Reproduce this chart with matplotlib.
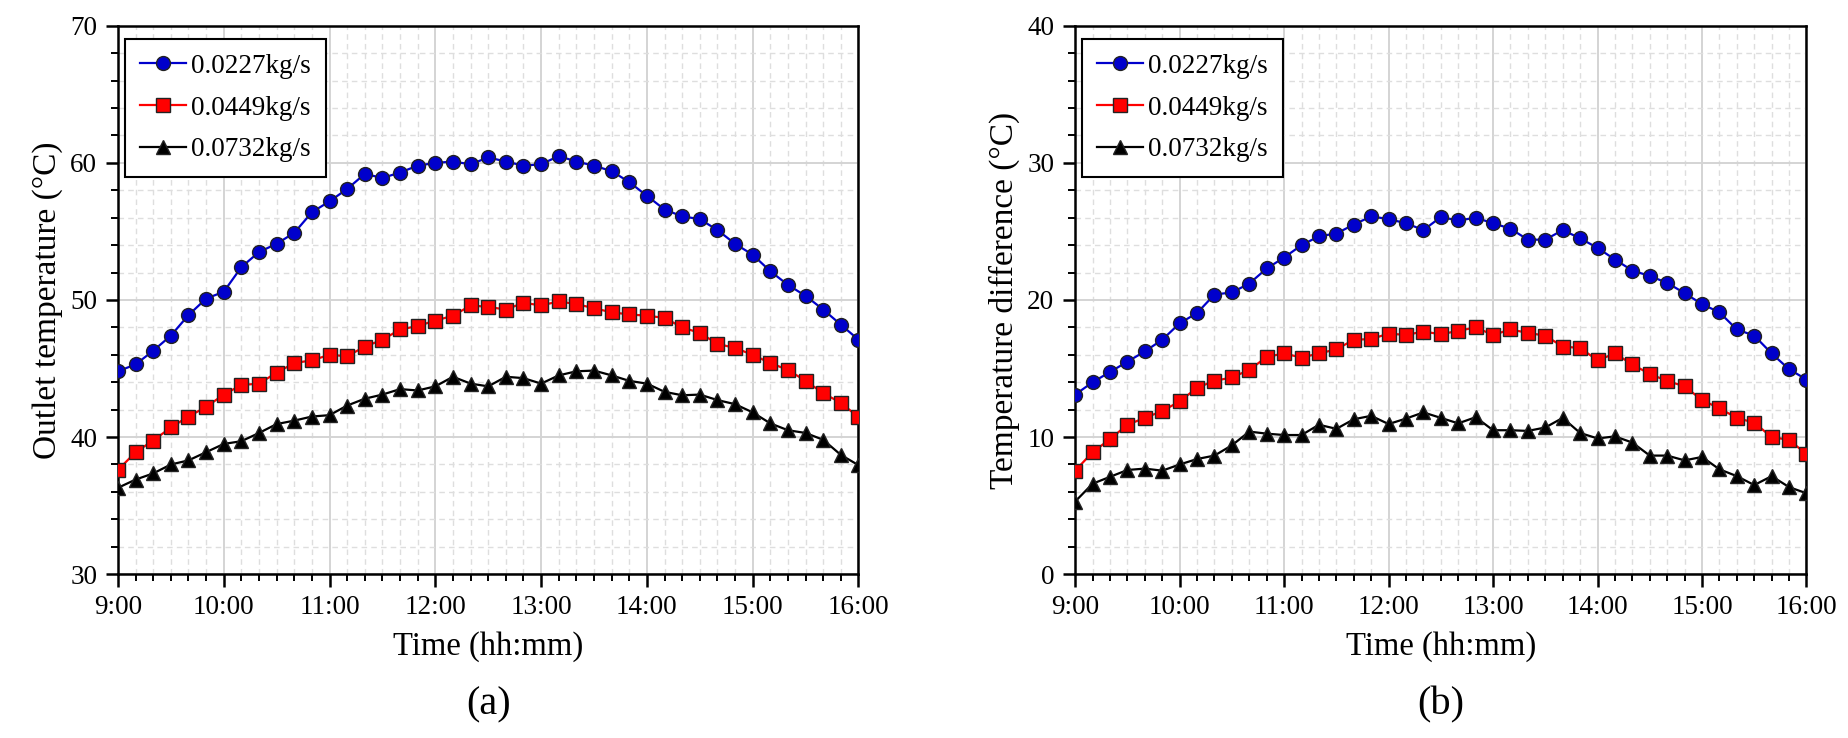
import numpy as np
import matplotlib.pyplot as plt
from matplotlib.ticker import MultipleLocator, FuncFormatter

plt.rcParams['font.family'] = ['Liberation Serif', 'DejaVu Serif']
plt.rcParams['mathtext.fontset'] = 'stix'

# time in minutes after midnight, one reading every 10 min from 9:00 to 16:00
minutes = np.arange(9 * 60, 16 * 60 + 1, 10)
flow_labels = ['0.0227kg/s', '0.0449kg/s', '0.0732kg/s']

# (a) outlet temperature, degC
outlet_0227 = [44.8, 45.3, 46.3, 47.4, 48.9, 50.1, 50.6, 52.4, 53.5, 54.1, 54.9, 56.4,
               57.2, 58.1, 59.2, 58.9, 59.3, 59.8, 60.0, 60.1, 59.9, 60.4, 60.1, 59.8,
               59.9, 60.5, 60.1, 59.8, 59.4, 58.6, 57.6, 56.6, 56.1, 55.9, 55.1, 54.1,
               53.3, 52.1, 51.1, 50.3, 49.3, 48.2, 47.1]
outlet_0449 = [37.6, 38.9, 39.75, 40.7, 41.5, 42.2, 43.1, 43.8, 43.9, 44.7, 45.4, 45.6,
               46.0, 45.9, 46.6, 47.1, 47.85, 48.1, 48.5, 48.85, 49.6, 49.5, 49.3, 49.8,
               49.6, 49.9, 49.7, 49.4, 49.1, 48.95, 48.85, 48.7, 48.0, 47.6, 46.8, 46.5,
               46.0, 45.4, 44.9, 44.1, 43.2, 42.5, 41.45]
outlet_0732 = [36.3, 36.9, 37.35, 38.0, 38.3, 38.9, 39.5, 39.7, 40.3, 40.95, 41.2, 41.5,
               41.6, 42.3, 42.8, 43.1, 43.5, 43.4, 43.7, 44.4, 43.9, 43.7, 44.4, 44.3,
               43.9, 44.5, 44.8, 44.85, 44.5, 44.1, 43.9, 43.3, 43.05, 43.1, 42.7, 42.4,
               41.8, 41.0, 40.5, 40.3, 39.8, 38.7, 37.95]

# (b) temperature difference, degC
diff_0227 = [13.1, 14.0, 14.75, 15.5, 16.25, 17.1, 18.3, 19.05, 20.4, 20.55, 21.2, 22.3,
             23.1, 24.0, 24.65, 24.85, 25.5, 26.1, 25.9, 25.6, 25.1, 26.05, 25.8, 26.0,
             25.6, 25.2, 24.4, 24.4, 25.1, 24.5, 23.8, 22.95, 22.15, 21.75, 21.25, 20.5,
             19.7, 19.1, 17.85, 17.4, 16.1, 14.95, 14.2]
diff_0449 = [7.55, 8.9, 9.85, 10.9, 11.4, 11.9, 12.6, 13.6, 14.1, 14.35, 14.9, 15.85,
             16.1, 15.8, 16.1, 16.4, 17.1, 17.15, 17.55, 17.45, 17.7, 17.5, 17.75, 18.0,
             17.45, 17.85, 17.6, 17.4, 16.6, 16.5, 15.6, 16.1, 15.3, 14.6, 14.1, 13.7,
             12.7, 12.1, 11.4, 11.05, 10.0, 9.8, 8.75]
diff_0732 = [5.3, 6.6, 7.1, 7.6, 7.7, 7.55, 8.0, 8.4, 8.65, 9.4, 10.4, 10.25,
             10.15, 10.15, 10.9, 10.6, 11.3, 11.55, 10.95, 11.35, 11.8, 11.4, 11.0, 11.45,
             10.5, 10.5, 10.45, 10.7, 11.4, 10.3, 9.9, 10.05, 9.6, 8.65, 8.65, 8.3,
             8.55, 7.65, 7.15, 6.5, 7.15, 6.35, 5.9]

styles = [
    dict(color='#0000cc', marker='o', markerfacecolor='#0000cc', markersize=10),
    dict(color='#ff0000', marker='s', markerfacecolor='#ff0000', markersize=10),
    dict(color='black', marker='^', markerfacecolor='black', markersize=10),
]


def hhmm(v, pos):
    return f"{int(v // 60)}:{int(v % 60):02d}"


def draw_panel(ax, series, ylim, ylabel, tag):
    for vals, lab, st in zip(series, flow_labels, styles):
        ax.plot(minutes, vals, lw=1.6, markeredgecolor='#222222', markeredgewidth=1.0,
                label=lab, zorder=3, **st)
    ax.set_xlim(minutes[0], minutes[-1])
    ax.set_ylim(*ylim)
    ax.xaxis.set_major_locator(MultipleLocator(60))
    ax.xaxis.set_minor_locator(MultipleLocator(10))
    ax.xaxis.set_major_formatter(FuncFormatter(hhmm))
    ax.yaxis.set_major_locator(MultipleLocator(10))
    ax.yaxis.set_minor_locator(MultipleLocator(2))
    ax.grid(which='major', color='#d4d4d4', lw=1.4, ls='-')
    ax.grid(which='minor', color='#dedede', lw=1.0, ls=(0, (4, 3)))
    ax.set_axisbelow(True)
    ax.tick_params(which='major', direction='out', length=9, width=1.8, labelsize=19.5,
                   pad=6)
    ax.tick_params(which='minor', direction='out', length=5, width=1.4)
    for sp in ax.spines.values():
        sp.set_linewidth(1.8)
    ax.set_xlabel('Time (hh:mm)', fontsize=23.5, labelpad=8)
    ax.set_ylabel(ylabel, fontsize=24, labelpad=5)
    leg = ax.legend(loc='upper left', bbox_to_anchor=(0.0095, 0.976), borderaxespad=0,
                    fontsize=19.5, fancybox=False, framealpha=1, edgecolor='black',
                    handlelength=1.7, handletextpad=0.2, borderpad=0.55,
                    labelspacing=0.62)
    leg.get_frame().set_linewidth(1.5)
    ax.text(0.5, -0.205, tag, transform=ax.transAxes, ha='center', va='top', fontsize=29)


fig = plt.figure(figsize=(18.49, 7.38), dpi=100)
ax1 = fig.add_axes([0.0638, 0.222, 0.4005, 0.743])
ax2 = fig.add_axes([0.5815, 0.222, 0.3955, 0.743])

draw_panel(ax1, [outlet_0227, outlet_0449, outlet_0732], (30, 70),
           'Outlet temperature (°C)', '(a)')
draw_panel(ax2, [diff_0227, diff_0449, diff_0732], (0, 40),
           'Temperature difference (°C)', '(b)')

plt.savefig('out.png', dpi=100)
plt.close()
